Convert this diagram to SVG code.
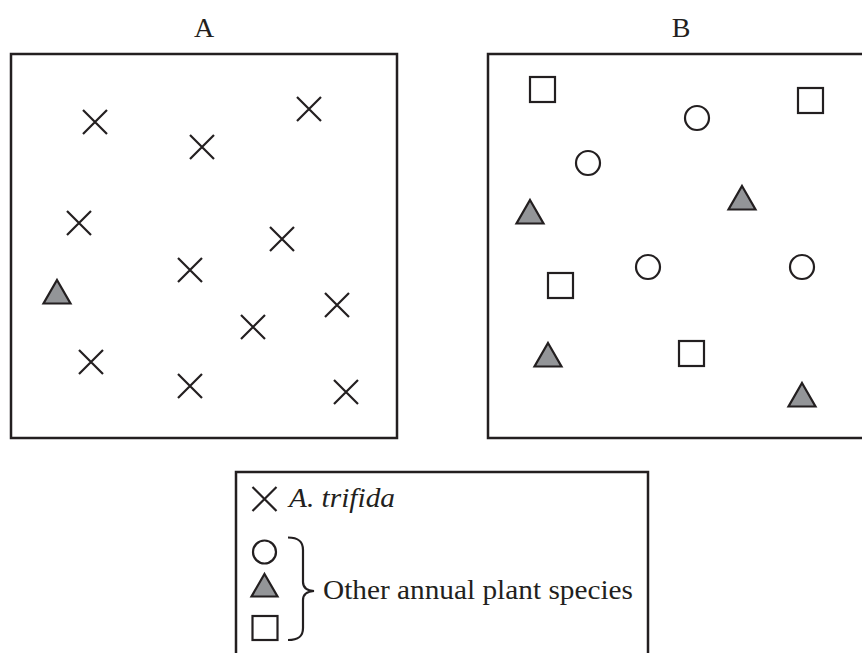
<svg xmlns="http://www.w3.org/2000/svg" width="862" height="653" viewBox="0 0 862 653">
<style>
.frame{fill:none;stroke:#231f20;stroke-width:2.5}
.x{stroke:#231f20;stroke-width:2.2;fill:none}
.tri{fill:#939598;stroke:#231f20;stroke-width:2.2;stroke-linejoin:miter}
.sq{fill:#fff;stroke:#231f20;stroke-width:2.2}
.ci{fill:#fff;stroke:#231f20;stroke-width:2.2}
.lbl{font-family:"Liberation Serif","Times New Roman",serif;font-size:28px;fill:#231f20}
</style>
<defs>
<path id="xm" d="M-12,-12L12,12M12,-12L-12,12" class="x"/>
<path id="tr" d="M0,-12L13.5,11.5L-13.5,11.5Z" class="tri"/>
<rect id="sqm" x="-12.5" y="-12.5" width="25" height="25" class="sq"/>
<circle id="cim" r="12" class="ci"/>
</defs>
<rect width="862" height="653" fill="#fff"/>

<g id="panelA">
<text class="lbl" x="204" y="36.5" text-anchor="middle" font-size="29">A</text>
<rect class="frame" x="11" y="54" width="386" height="384"/>
<use href="#xm" x="95" y="122"/>
<use href="#xm" x="202" y="147"/>
<use href="#xm" x="309" y="109"/>
<use href="#xm" x="79" y="223"/>
<use href="#xm" x="282" y="239"/>
<use href="#xm" x="190" y="270"/>
<use href="#xm" x="337" y="305"/>
<use href="#xm" x="253" y="327"/>
<use href="#xm" x="91" y="362"/>
<use href="#xm" x="190" y="386"/>
<use href="#xm" x="346" y="392"/>
<use href="#tr" x="57" y="292"/>
</g>

<g id="panelB">
<text class="lbl" x="681" y="36.5" text-anchor="middle" font-size="29">B</text>
<rect class="frame" x="488" y="54" width="390" height="384"/>
<use href="#sqm" x="542.5" y="89.5"/>
<use href="#sqm" x="810.5" y="100.5"/>
<use href="#sqm" x="560.5" y="285.5"/>
<use href="#sqm" x="691.5" y="353.5"/>
<use href="#cim" x="697" y="118"/>
<use href="#cim" x="588" y="163"/>
<use href="#cim" x="648" y="267"/>
<use href="#cim" x="802" y="267"/>
<use href="#tr" x="530" y="212"/>
<use href="#tr" x="742" y="198"/>
<use href="#tr" x="548" y="355"/>
<use href="#tr" x="802" y="395"/>
</g>

<g id="legend">
<rect class="frame" x="236" y="472" width="412" height="240"/>
<use href="#xm" x="264.5" y="499"/>
<text class="lbl" x="289" y="507" font-style="italic" textLength="106" lengthAdjust="spacingAndGlyphs">A. trifida</text>
<circle class="ci" cx="264.5" cy="552" r="11.5"/>
<path class="tri" d="M264.5,574L277.5,596.5L251.5,596.5Z"/>
<rect class="sq" x="252.5" y="616" width="25" height="24"/>
<path d="M288,537.5C298,537.5 303,541 303,550L303,582C303,588 307,590.5 314,591C307,591.5 303,594 303,600L303,628C303,637 298,640 288,640" fill="none" stroke="#231f20" stroke-width="2.2"/>
<text class="lbl" x="323" y="599" textLength="310" lengthAdjust="spacingAndGlyphs">Other annual plant species</text>
</g>
</svg>
